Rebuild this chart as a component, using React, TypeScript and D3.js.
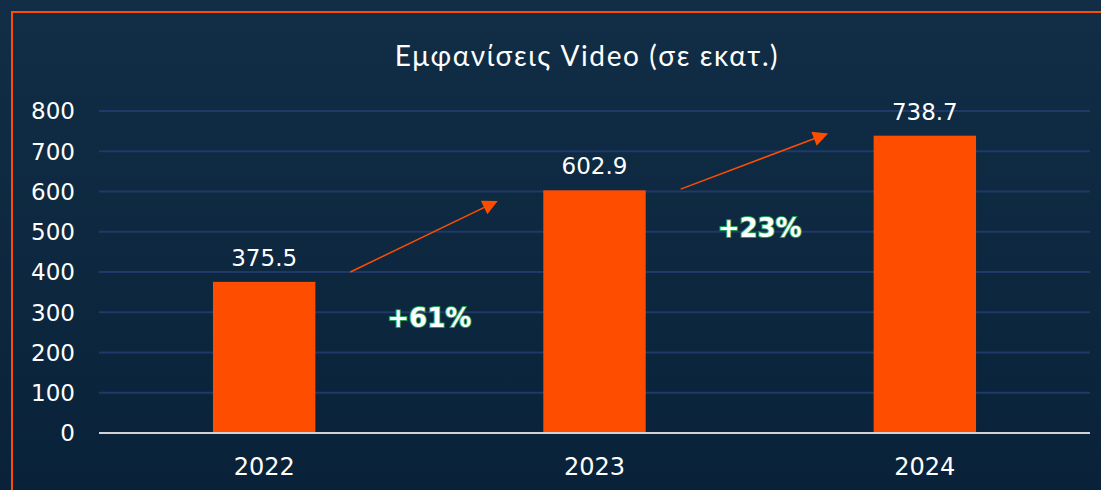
import React from "react";
import * as d3 from "d3";

const years = ["2022", "2023", "2024"];
const values = [375.5, 602.9, 738.7];
const yTicks = [0, 100, 200, 300, 400, 500, 600, 700, 800];
const growthLabels = ["+61%", "+23%"];
const growthLabelValues = [263, 487];
const arrowStartValues = [400, 606];
const arrowEndValues = [575, 743];
const title = "Εμφανίσεις Video (σε εκατ.)";

const W = 1101;
const H = 490;
const margin = { left: 99, right: 11, top: 111, bottom: 57 };
const FONT = "'DejaVu Sans', Verdana, sans-serif";

export default function App() {
  const x = d3
    .scaleBand<string>()
    .domain(years)
    .range([margin.left, W - margin.right])
    .paddingInner(0.69)
    .paddingOuter(0.345);
  const y = d3.scaleLinear().domain([0, 800]).range([H - margin.bottom, margin.top]);
  const bw = x.bandwidth();

  return (
    <svg
      width={W}
      height={H}
      style={{ position: "fixed", left: 0, top: 0, display: "block" }}
    >
      <defs>
        <linearGradient id="bg" x1="0" y1="0" x2="0" y2="1">
          <stop offset="0" stopColor="#112e46" />
          <stop offset="1" stopColor="#092239" />
        </linearGradient>
        <marker
          id="arrow"
          viewBox="0 0 10 10"
          refX="9"
          refY="5"
          markerWidth="12"
          markerHeight="10"
          markerUnits="strokeWidth"
          orient="auto"
        >
          <path d="M0,0 L10,5 L0,10 Z" fill="#ff4d00" />
        </marker>
      </defs>
      <rect x={0} y={0} width={W} height={H} fill="url(#bg)" />
      <rect x={12} y={12} width={W + 50} height={H + 50} fill="none" stroke="#ff4d00" strokeWidth={2} />
      <text
        x={587}
        y={66}
        textAnchor="middle"
        fill="#ffffff"
        fontFamily="Lato, 'Open Sans', sans-serif"
        fontSize={28}
        letterSpacing={1.6}
      >
        {title}
      </text>
      {yTicks.map((t) => (
        <g key={t}>
          {t !== 0 && (
            <line
              x1={margin.left}
              x2={W - margin.right}
              y1={y(t)}
              y2={y(t)}
              stroke="#1f3969"
              strokeWidth={2}
            />
          )}
          <text
            x={75}
            y={y(t)}
            dy="0.36em"
            textAnchor="end"
            fill="#ffffff"
            fontFamily={FONT}
            fontSize={23}
          >
            {t}
          </text>
        </g>
      ))}
      {years.map((yr, i) => (
        <g key={yr}>
          <rect
            x={x(yr)}
            y={y(values[i])}
            width={bw}
            height={y(0) - y(values[i])}
            fill="#ff4d00"
          />
          <text
            x={(x(yr) as number) + bw / 2}
            y={y(values[i]) - 16}
            textAnchor="middle"
            fill="#ffffff"
            fontFamily={FONT}
            fontSize={23}
          >
            {values[i].toFixed(1)}
          </text>
          <text
            x={(x(yr) as number) + bw / 2}
            y={475}
            textAnchor="middle"
            fill="#ffffff"
            fontFamily={FONT}
            fontSize={24}
          >
            {yr}
          </text>
        </g>
      ))}
      <line
        x1={margin.left}
        x2={W - margin.right}
        y1={y(0)}
        y2={y(0)}
        stroke="#cfd2d6"
        strokeWidth={2}
      />
      {growthLabels.map((g, i) => {
        const x0 = (x(years[i]) as number) + bw;
        const x1 = x(years[i + 1]) as number;
        const cx = (x0 + x1) / 2;
        return (
          <g key={g}>
            <line
              x1={x0 + 35}
              y1={y(arrowStartValues[i])}
              x2={x1 - 47}
              y2={y(arrowEndValues[i])}
              stroke="#ff4d00"
              strokeWidth={1.5}
              markerEnd="url(#arrow)"
            />
            <text
              x={cx}
              y={y(growthLabelValues[i])}
              textAnchor="middle"
              fill="#ffffff"
              stroke="#1f9a55"
              strokeWidth={2}
              paintOrder="stroke"
              fontFamily={FONT}
              fontWeight="bold"
              fontSize={26}
            >
              {g}
            </text>
          </g>
        );
      })}
    </svg>
  );
}
